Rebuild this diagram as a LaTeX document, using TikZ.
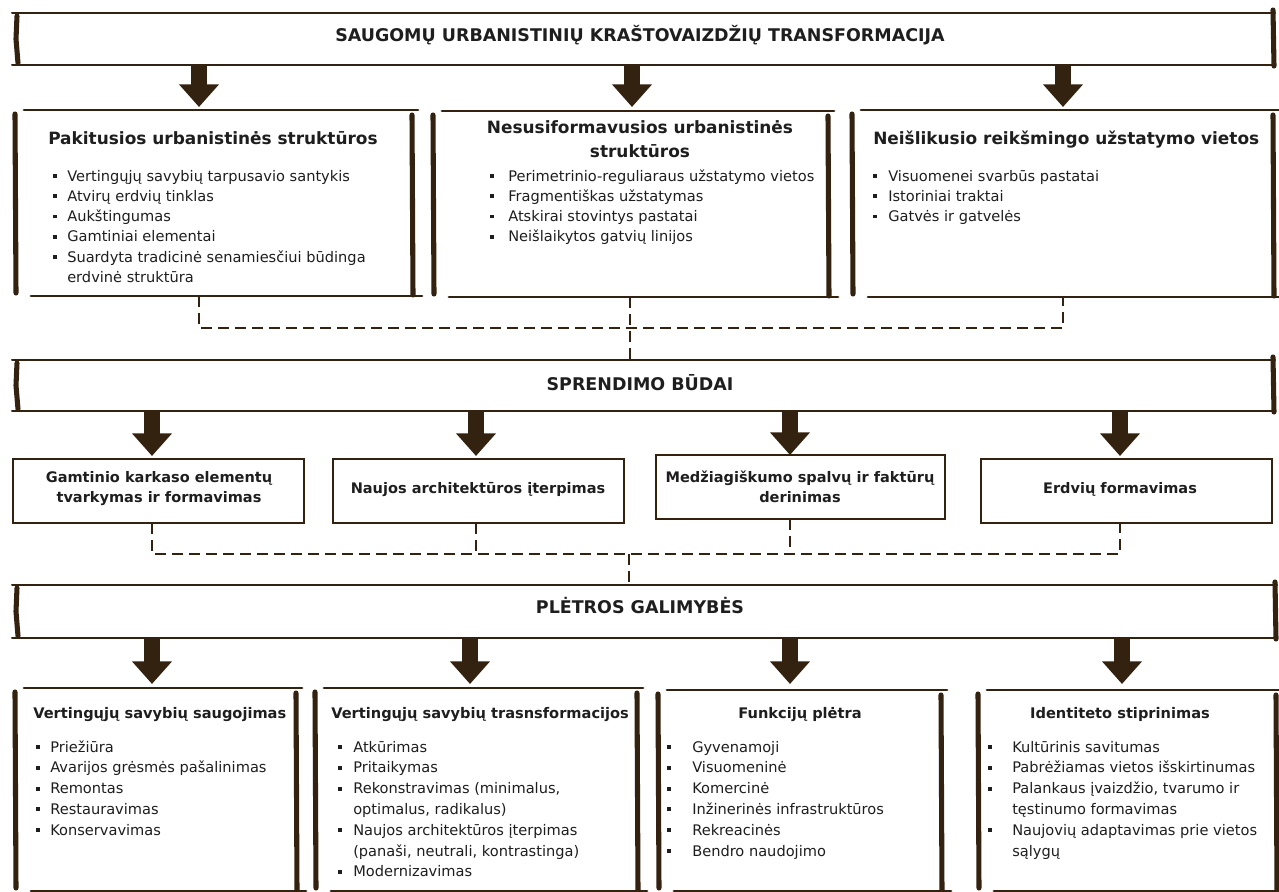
\documentclass[tikz,border=0pt]{standalone}
\usepackage{fontspec}
\setmainfont{DejaVu Sans}
\usetikzlibrary{arrows.meta,calc,fit}
\definecolor{brn}{HTML}{33220F}
\definecolor{txt}{HTML}{1E1E1E}
\newlength\bulw
\newcommand\bulchar{\rule[2.3pt]{2.9pt}{2.9pt}}
\newcommand\bl[1]{\hbox{\makebox[\bulw][l]{\bulchar}#1}}
\newcommand\bc[1]{\hbox{\hspace*{\bulw}#1}}
\newcommand\cen[1]{\vtop{\halign{\hfil##\hfil\cr#1\crcr}}}
\tikzset{
  frame/.style={inner sep=0pt, outer sep=0pt},
  edgeh/.style={draw=brn, line width=2.2pt, line cap=round},
  edgev/.style={draw=brn, line width=3.8pt, line cap=round},
  thinh/.style={draw=brn, line width=1.5pt, line cap=round},
  thinbox/.style={draw=brn, line width=1.5pt},
  bigarr/.style={draw=brn, line width=11.5pt, -{Triangle[width=29pt,length=17pt]}},
  dsh/.style={draw=brn, line width=2.2pt, dash pattern=on 8.25pt off 4.5pt},
  bantxt/.style={inner sep=0pt, anchor=base, text=txt, font=\fontsize{13.1}{15}\selectfont\bfseries},
  ttl/.style={inner sep=0pt, anchor=base west, text=txt, font=\fontsize{12.7}{18.5}\selectfont\bfseries},
  rtwo/.style={inner sep=0pt, anchor=base, text=txt, font=\fontsize{10.9}{15}\selectfont\bfseries},
  tthree/.style={inner sep=0pt, anchor=base west, text=txt, font=\fontsize{10.95}{15}\selectfont\bfseries},
  listA/.style={inner sep=0pt, anchor=base west, text=txt, font=\fontsize{10.95}{15.2}\selectfont},
  listB/.style={inner sep=0pt, anchor=base west, text=txt, font=\fontsize{10.95}{15.6}\selectfont},
}
\newcommand\skban[1]{%
  \draw[thinh] (#1.north west) -- (#1.north east);
  \draw[thinh] (#1.south west) -- (#1.south east);
  \draw[edgev] ($(#1.north west)+(5,3)$) -- ($(#1.west)+(4,0)$) -- ($(#1.south west)+(6,-2)$);
  \draw[edgev] ($(#1.north east)+(-2,-3)$) -- ($(#1.south east)+(-1,1)$);
}
\newcommand\skbox[1]{%
  \draw[edgeh] ($(#1.north west)+(9,0)$) -- ($(#1.north east)+(6,0)$);
  \draw[edgev] ($(#1.north west)+(0,4)$) -- ($(#1.south west)+(1,-3)$);
  \draw[edgev] ($(#1.north east)+(0,5)$) -- ($(#1.south east)+(1,-1)$);
  \draw[edgeh] ($(#1.south west)+(16,0)$) -- ($(#1.south east)+(10,0)$);
}
\begin{document}
\begin{tikzpicture}[x=0.75pt,y=-0.75pt]
\useasboundingbox (0,0) rectangle (1279,892);
\fill[white] (0,0) rectangle (1279,892);

% ---------- frames ----------
\node[frame, fit={(12,13) (1275,65)}] (ban1) {};
\node[frame, fit={(15,110) (412,296)}] (b1) {};
\node[frame, fit={(433,111) (828,297)}] (b2) {};
\node[frame, fit={(852,110) (1273,297)}] (b3) {};
\node[frame, fit={(12,360) (1275,411)}] (ban2) {};
\node[frame, fit={(13,459) (304,523)}] (r1) {};
\node[frame, fit={(333,459) (624,523)}] (r2) {};
\node[frame, fit={(656,455) (945,519)}] (r3) {};
\node[frame, fit={(981,459) (1272,523)}] (r4) {};
\node[frame, fit={(12,585) (1277,638)}] (ban3) {};
\node[frame, fit={(15,688) (296,891)}] (p1) {};
\node[frame, fit={(315,688) (637,891)}] (p2) {};
\node[frame, fit={(658,690) (941,891)}] (p3) {};
\node[frame, fit={(978,690) (1276,891)}] (p4) {};

\skban{ban1}\skban{ban2}\skban{ban3}
\skbox{b1}\skbox{b2}\skbox{b3}
\skbox{p1}\skbox{p2}\skbox{p3}\skbox{p4}
\foreach \r in {r1,r2,r3,r4} \draw[thinbox] (\r.north west) rectangle (\r.south east);

% ---------- column coordinates ----------
\coordinate (xa1) at (199,0);
\coordinate (xa2) at (632,0);
\coordinate (xa3) at (1063,0);
\coordinate (xb1) at (152,0);
\coordinate (xb2) at (476,0);
\coordinate (xb3) at (790,0);
\coordinate (xb4) at (1120,0);
\coordinate (xc1) at (152,0);
\coordinate (xc2) at (470,0);
\coordinate (xc3) at (790,0);
\coordinate (xc4) at (1122,0);
\coordinate (j1) at (630,328);
\coordinate (j2) at (629,554);

% ---------- big arrows ----------
\draw[bigarr] (ban1.south -| xa1) -- ($(b1.north -| xa1)+(0,-3)$);
\draw[bigarr] (ban1.south -| xa2) -- ($(b2.north -| xa2)+(0,-4)$);
\draw[bigarr] (ban1.south -| xa3) -- ($(b3.north -| xa3)+(0,-3)$);
\draw[bigarr] (ban2.south -| xb1) -- ($(r1.north -| xb1)+(0,-3)$);
\draw[bigarr] (ban2.south -| xb2) -- ($(r2.north -| xb2)+(0,-3)$);
\draw[bigarr] (ban2.south -| xb3) -- ($(r3.north -| xb3)+(0,0)$);
\draw[bigarr] (ban2.south -| xb4) -- ($(r4.north -| xb4)+(0,-3)$);
\draw[bigarr] (ban3.south -| xc1) -- ($(p1.north -| xc1)+(0,-4)$);
\draw[bigarr] (ban3.south -| xc2) -- ($(p2.north -| xc2)+(0,-4)$);
\draw[bigarr] (ban3.south -| xc3) -- ($(p3.north -| xc3)+(0,-6)$);
\draw[bigarr] (ban3.south -| xc4) -- ($(p4.north -| xc4)+(0,-6)$);

% ---------- dashed connectors ----------
\draw[dsh] (b1.south -| xa1) |- (j1) -| (b3.south -| xa3);
\draw[dsh] (b2.south -| j1) -- (j1) -- (ban2.north -| j1);
\draw[dsh] (r1.south -| xb1) |- (j2) -| (r4.south -| xb4);
\draw[dsh] (r2.south -| xb2) -- (j2 -| xb2);
\draw[dsh] (r3.south -| xb3) -- (j2 -| xb3);
\draw[dsh] (j2) -- (ban3.north -| j2);

% ---------- banner texts ----------
\node[bantxt] (ban1t) at (640,42) {SAUGOMŲ URBANISTINIŲ KRAŠTOVAIZDŽIŲ TRANSFORMACIJA};
\node[bantxt] (ban2t) at (640,390) {SPRENDIMO BŪDAI};
\node[bantxt] (ban3t) at (640,613) {PLĖTROS GALIMYBĖS};

% ---------- row 1 ----------
\node[ttl] (b1t) at (48,145) {Pakitusios urbanistinės struktūros};
\node[ttl, anchor=base] (b2t) at (640,133) {\cen{Nesusiformavusios urbanistinės\cr struktūros}};
\node[ttl] (b3t) at (873,145) {Neišlikusio reikšmingo užstatymo vietos};

\node[listA] (b1l) at (53,181) {\setlength\bulw{10.5pt}\vtop{%
  \bl{Vertingųjų savybių tarpusavio santykis}
  \bl{Atvirų erdvių tinklas}
  \bl{Aukštingumas}
  \bl{Gamtiniai elementai}
  \bl{Suardyta tradicinė senamiesčiui būdinga}
  \bc{erdvinė struktūra}}};
\node[listA] (b2l) at (490,181) {\setlength\bulw{13.5pt}\vtop{%
  \bl{Perimetrinio-reguliaraus užstatymo vietos}
  \bl{Fragmentiškas užstatymas}
  \bl{Atskirai stovintys pastatai}
  \bl{Neišlaikytos gatvių linijos}}};
\node[listA] (b3l) at (873,181) {\setlength\bulw{11.25pt}\vtop{%
  \bl{Visuomenei svarbūs pastatai}
  \bl{Istoriniai traktai}
  \bl{Gatvės ir gatvelės}}};

% ---------- row 2 ----------
\node[rtwo] (r1t) at (159,482) {\cen{Gamtinio karkaso elementų\cr tvarkymas ir formavimas}};
\node[rtwo] (r2t) at (478,493) {Naujos architektūros įterpimas};
\node[rtwo] (r3t) at (800,482) {\cen{Medžiagiškumo spalvų ir faktūrų\cr derinimas}};
\node[rtwo] (r4t) at (1120,493) {Erdvių formavimas};

% ---------- row 3 ----------
\node[tthree] (p1t) at (33,718) {Vertingųjų savybių saugojimas};
\node[tthree] (p2t) at (331,718) {Vertingųjų savybių trasnsformacijos};
\node[tthree, anchor=base] (p3t) at (800,718) {Funkcijų plėtra};
\node[tthree, anchor=base] (p4t) at (1120,718) {Identiteto stiprinimas};

\node[listB] (p1l) at (36,752) {\setlength\bulw{10.5pt}\vtop{%
  \bl{Priežiūra}
  \bl{Avarijos grėsmės pašalinimas}
  \bl{Remontas}
  \bl{Restauravimas}
  \bl{Konservavimas}}};
\node[listB] (p2l) at (338,752) {\setlength\bulw{11.25pt}\vtop{%
  \bl{Atkūrimas}
  \bl{Pritaikymas}
  \bl{Rekonstravimas (minimalus,}
  \bc{optimalus, radikalus)}
  \bl{Naujos architektūros įterpimas}
  \bc{(panaši, neutrali, kontrastinga)}
  \bl{Modernizavimas}}};
\node[listB] (p3l) at (667,752) {\setlength\bulw{18.75pt}\vtop{%
  \bl{Gyvenamoji}
  \bl{Visuomeninė}
  \bl{Komercinė}
  \bl{Inžinerinės infrastruktūros}
  \bl{Rekreacinės}
  \bl{Bendro naudojimo}}};
\node[listB] (p4l) at (988,752) {\setlength\bulw{18pt}\vtop{%
  \bl{Kultūrinis savitumas}
  \bl{Pabrėžiamas vietos išskirtinumas}
  \bl{Palankaus įvaizdžio, tvarumo ir}
  \bc{tęstinumo formavimas}
  \bl{Naujovių adaptavimas prie vietos}
  \bc{sąlygų}}};
\end{tikzpicture}
\end{document}
